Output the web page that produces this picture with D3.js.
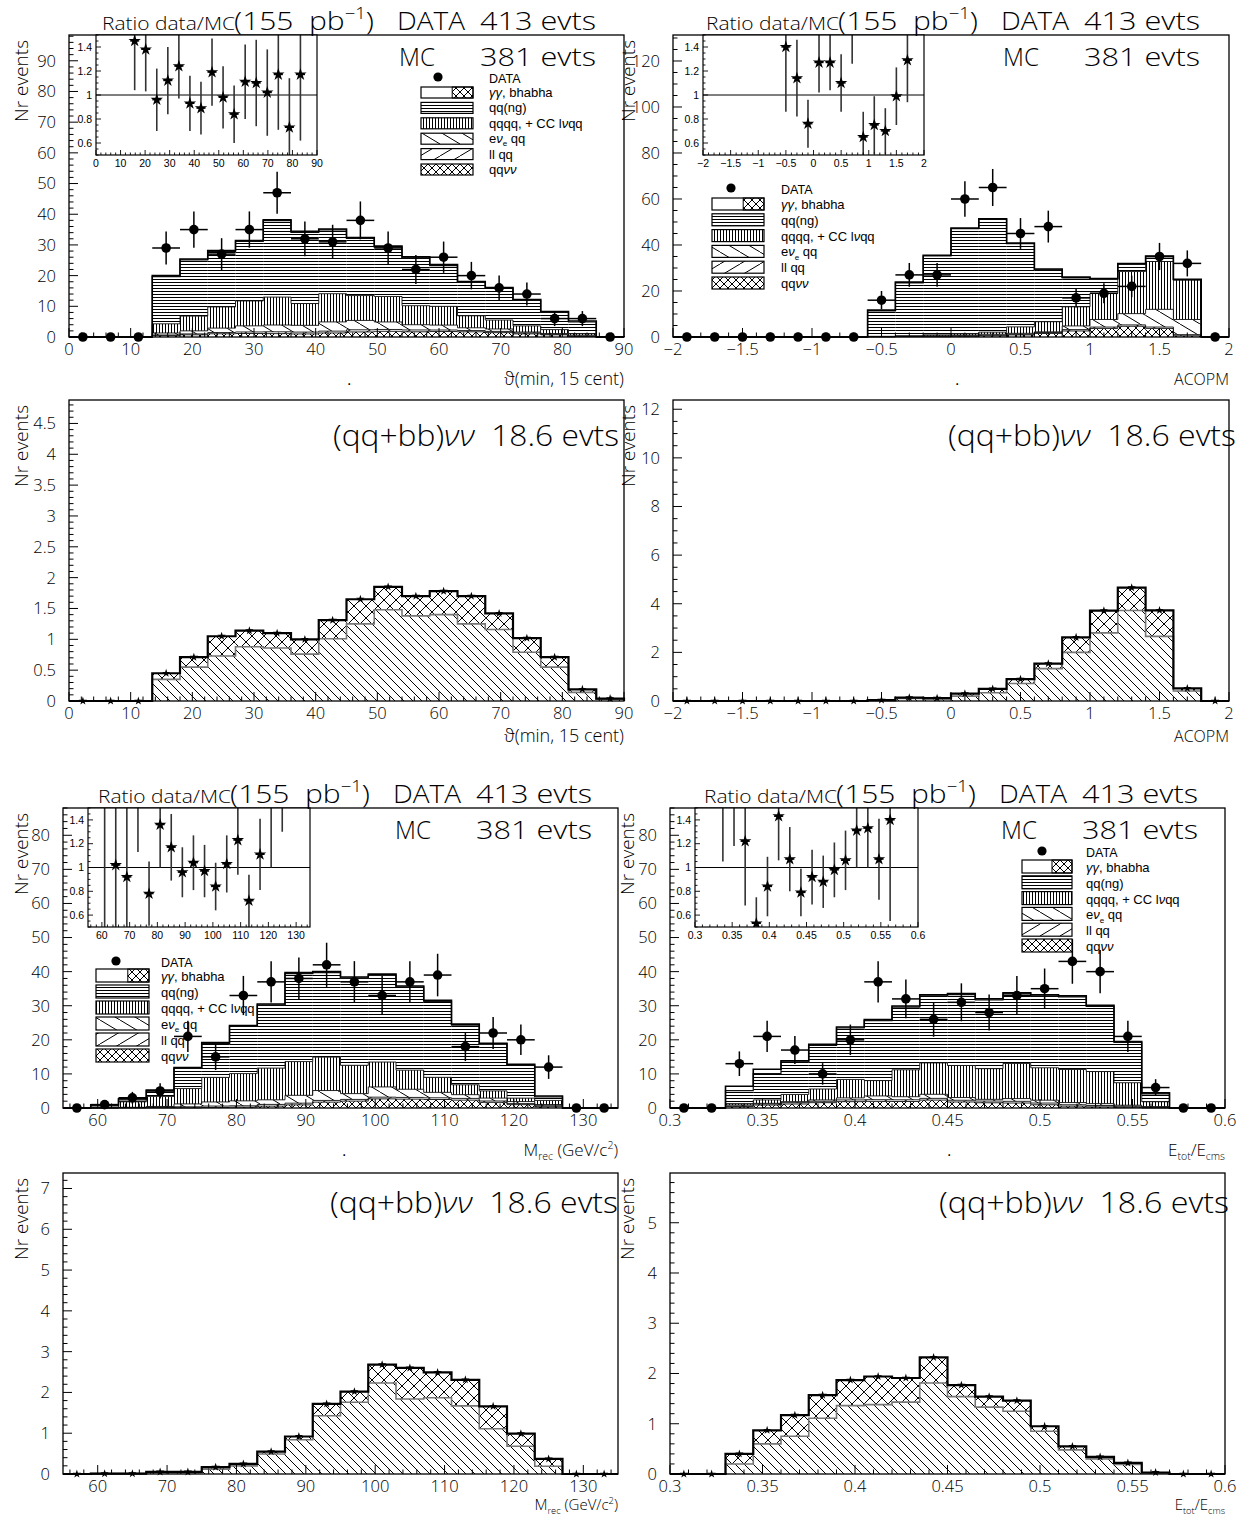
<!DOCTYPE html>
<html><head><meta charset="utf-8">
<script src="https://cdn.jsdelivr.net/npm/d3@7/dist/d3.min.js"></script>
<style>
 html,body{margin:0;padding:0;background:#fff}
 svg text{font-family:'Liberation Sans',Arial,Helvetica,sans-serif;fill:#000}
 svg text.thin{font-family:'Open Sans','Liberation Sans',Arial,sans-serif;font-weight:300}
</style></head><body>
<script>
// ---------------- ϑ(min, 15 cent) : 20 bins over 0–90 ----------------
const thetaRange = [0, 90];
const thetaTicks = [0,10,20,30,40,50,60,70,80,90];
const thetaData  = [0,0,0,29,35,27,35,47,32,31,38,29,22,26,20,16,14,6,6,0];
const thetaSigQQ = [0,0,0,0.35,0.55,0.73,0.88,0.86,0.76,1.01,1.25,1.48,1.38,1.40,1.25,1.16,0.79,0.55,0.14,0.03];
const thetaSigBB = [0,0,0,0.10,0.16,0.32,0.26,0.24,0.24,0.30,0.40,0.37,0.32,0.38,0.45,0.26,0.23,0.16,0.05,0.01];
const thetaLLqq  = [0,0,0,0.2,0.3,0.4,0.5,0.6,0.6,0.6,0.7,0.6,0.6,0.5,0.4,0.4,0.3,0.2,0.1,0];
const thetaENqq  = [0,0,0,0.65,1.0,1.45,2.0,2.2,2.2,3.0,3.05,2.45,1.7,1.6,0.9,0.8,0.3,0.2,0.3,0];
const thetaQQQQ  = [0,0,0,3.0,4.8,6.9,8.1,9.1,7.1,9.2,8.1,8.3,6.2,6.1,3.9,2.9,2.0,1.3,0.5,0];
const thetaQQng  = [0,0,0,15.4,18.3,18.1,19.4,24.9,23.2,20.8,18.6,16.1,15.6,13.3,10.9,10.3,8.3,5.6,3.8,0];
const thetaGG    = [0,0,0,0.3,0.3,0.3,0.3,0.3,0.3,0.3,0.3,0.3,0.3,0.3,0.3,0.3,0.3,0.3,0.3,0];
const thetaRatio    = [null,null,null,1.45,1.38,0.96,1.12,1.24,0.93,0.89,1.19,0.98,0.84,1.11,1.10,1.02,1.17,0.73,1.17,null];
const thetaRatioErr = [null,null,null,0.41,0.35,0.26,0.28,0.27,0.23,0.22,0.28,0.26,0.24,0.31,0.36,0.36,0.46,0.41,0.55,null];

// ---------------- ACOPM : 20 bins over -2–2 ----------------
const acoRange = [-2, 2];
const acoTicks = [-2,-1.5,-1,-0.5,0,0.5,1,1.5,2];
const acoData  = [0,0,0,0,0,0,0,16,27,27,60,65,45,48,17,19,22,35,32,0];
const acoSigQQ = [0,0,0,0,0,0,0,0.02,0.10,0.08,0.20,0.34,0.72,1.33,2.00,2.80,3.72,2.66,0.41,0];
const acoSigBB = [0,0,0,0,0,0,0,0.02,0.04,0.04,0.10,0.16,0.18,0.21,0.62,0.92,0.94,1.07,0.11,0];
const acoLLqq  = [0,0,0,0,0,0,0,0.1,0.1,0.2,0.2,0.3,0.3,0.4,0.6,0.6,0.6,0.6,0.5,0];
const acoENqq  = [0,0,0,0,0,0,0,0.05,0.1,0.2,0.3,0.4,0.4,0.3,1.6,3.3,4.9,7.7,6.6,0];
const acoQQQQ  = [0,0,0,0,0,0,0,0.1,0.2,0.4,0.6,0.9,2.8,4.4,8.3,11.4,18.3,20.8,17.2,0];
const acoQQng  = [0,0,0,0,0,0,0,11.1,23.0,34.3,45.7,49.0,36.2,22.6,12.6,6.1,3.2,2.1,0,0];
const acoGG    = [0,0,0,0,0,0,0,0.3,0.3,0.3,0.3,0.3,0.3,0.3,0.3,0.3,0.3,0.3,0.3,0];
const acoRatio    = [null,null,null,null,null,null,null,1.40,1.14,0.76,1.27,1.27,1.10,1.63,0.65,0.75,0.70,0.99,1.29,null];
const acoRatioErr = [null,null,null,null,null,null,null,0.54,0.32,0.20,0.25,0.23,0.24,0.37,0.21,0.24,0.19,0.24,0.35,null];

// ---------------- M_rec : 20 bins over 55–135 ----------------
const mrecRange = [55, 135];
const mrecTicks = [60,70,80,90,100,110,120,130];
const mrecData  = [0,1,3,5,21,15,33,37,38,42,37,33,37,39,18,22,20,12,0,0];
const mrecSigQQ = [0,0.01,0.01,0.03,0.03,0.12,0.20,0.49,0.84,1.43,1.76,2.23,1.84,1.87,1.67,1.11,0.68,0.19,0,0];
const mrecSigBB = [0,0,0,0.02,0.02,0.05,0.05,0.06,0.08,0.29,0.26,0.45,0.76,0.62,0.64,0.55,0.31,0.18,0,0];
const mrecLLqq  = [0,0,0.1,0.2,0.3,0.4,0.4,0.5,0.5,0.5,0.5,0.5,0.5,0.5,0.5,0.4,0.3,0.3,0,0];
const mrecENqq  = [0,0,0.1,0.2,0.85,1.2,1.45,1.35,2.3,2.9,1.7,3.0,2.4,1.6,1.1,0.85,0.6,0.35,0,0];
const mrecQQQQ  = [0,0.3,1.6,2.95,4.5,7.2,8.0,9.3,9.9,9.8,8.3,7.3,5.6,4.4,2.9,2.1,1.0,1.2,0,0];
const mrecQQng  = [0,0.5,0.6,1.6,5.9,9.9,13.8,18.5,25.8,24.8,25.6,25.5,24.4,22.3,17.5,13.7,9.6,1.0,0,0];
const mrecGG    = [0,0.1,0.3,0.3,0.3,0.3,0.3,0.3,0.3,0.3,0.3,0.3,0.3,0.3,0.3,0.3,0.3,0.3,0,0];
const mrecRatio    = [null,2.5,1.02,0.92,1.76,0.78,1.36,1.17,0.96,1.04,0.97,0.84,1.03,1.23,0.72,1.11,1.56,3.4,null,null];
const mrecRatioErr = [null,2.5,0.6,0.6,0.63,0.27,0.36,0.28,0.21,0.23,0.22,0.20,0.24,0.29,0.22,0.30,0.56,2.1,null,null];

// ---------------- E_tot/E_cms : 20 bins over 0.3–0.6 ----------------
const etotRange = [0.3, 0.6];
const etotTicks = [0.3,0.35,0.4,0.45,0.5,0.55,0.6];
const etotData  = [0,0,13,21,17,10,20,37,32,26,31,28,33,35,43,40,21,6,0,0];
const etotSigQQ = [0,0,0.20,0.60,0.75,1.11,1.36,1.38,1.43,1.81,1.54,1.33,1.25,0.85,0.48,0.30,0.19,0.02,0,0];
const etotSigBB = [0,0,0.20,0.27,0.42,0.46,0.51,0.56,0.48,0.51,0.23,0.21,0.21,0.10,0.07,0.04,0.03,0.01,0,0];
const etotLLqq  = [0,0,0.2,0.3,0.4,0.4,0.5,0.5,0.5,0.5,0.5,0.5,0.5,0.5,0.4,0.4,0.3,0.1,0,0];
const etotENqq  = [0,0,0.3,0.2,0.3,0.4,0.6,1.1,0.9,1.2,0.8,0.5,0.8,0.85,0.65,0.55,0.3,0.3,0,0];
const etotQQQQ  = [0,0,0.4,1.0,2.1,3.2,5.4,4.5,7.9,9.2,9.4,9.0,10.3,9.5,9.7,9.4,6.6,1.4,0,0];
const etotQQng  = [0,0,3.8,7.7,9.6,12.8,15.1,17.6,18.4,19.7,20.8,20.2,20.4,21.1,21.3,19.1,11.8,2.3,0,0];
const etotGG    = [0,0,1.3,1.3,0.3,0.3,0.3,0.3,0.3,0.3,0.3,0.3,0.3,0.3,0.3,0.3,0.3,0.3,0,0];
const etotRatio    = [null,null,2.03,1.84,1.22,0.53,0.84,1.43,1.07,0.79,0.92,0.88,0.98,1.06,1.31,1.33,1.07,1.40,null,null];
const etotRatioErr = [null,null,0.98,0.66,0.54,0.22,0.25,0.37,0.27,0.20,0.23,0.22,0.23,0.25,0.31,0.33,0.34,0.85,null,null];

// shared labels
const ratioTicks = [0.6,0.8,1,1.2,1.4];
const legendKeys = ['gg','qqng','qqqq','enqq','llqq','qqvv'];
const legendLabels = [
  [{t:'γγ',it:true},{t:', bhabha'}],
  [{t:'qq(ng)'}],
  [{t:'qqqq, + CC l'},{t:'ν',it:true},{t:'qq'}],
  [{t:'e'},{t:'ν',it:true},{t:'e',sub:true},{t:' qq'}],
  [{t:'ll qq'}],
  [{t:'qq'},{t:'νν',it:true}]
];
const thetaTitle = [{t:'ϑ'},{t:'(min, 15 cent)'}];
const acoTitle   = [{t:'ACOPM'}];
const mrecTitle  = [{t:'M'},{t:'rec',sub:true},{t:' (GeV/c'},{t:'2',sup:true},{t:')'}];
const etotTitle  = [{t:'E'},{t:'tot',sub:true},{t:'/E'},{t:'cms',sub:true}];

// ------------------------------------------------------------------
const W = 1242, H = 1521;
const NB = '\u00a0';
const svg = d3.select('body').append('svg').attr('width',W).attr('height',H);
svg.append('rect').attr('width',W).attr('height',H).attr('fill','#fff');
const defs = svg.append('defs');

function hatch(id, w, h, segs, sw) {
  const p = defs.append('pattern').attr('id',id).attr('patternUnits','userSpaceOnUse')
    .attr('width',w).attr('height',h);
  p.append('rect').attr('width',w).attr('height',h).attr('fill','#fff');
  segs.forEach(s => p.append('line').attr('x1',s[0]).attr('y1',s[1]).attr('x2',s[2]).attr('y2',s[3])
    .attr('stroke','#000').attr('stroke-width',sw||1).attr('stroke-linecap','square'));
}
hatch('hl', 6, 3, [[0,0.5,6,0.5]]);
hatch('vl', 3, 6, [[0.5,0,0.5,6]]);
hatch('bsl', 20, 12, [[0,0,20,12]]);
hatch('fsl', 20, 12, [[0,12,20,0]]);
hatch('xs', 8, 8, [[0,0,8,8],[0,8,8,0]]);
hatch('bsl2', 9, 9, [[0,0,9,9]]);
hatch('xl', 12, 12, [[0,0,12,12],[0,12,12,0]]);
const fills = {qqvv:'url(#xs)', llqq:'url(#fsl)', enqq:'url(#bsl)', qqqq:'url(#vl)', qqng:'url(#hl)', gg:'#fff'};

function rich(g, x, y, parts, size, anchor, cls) {
  const t = g.append('text').attr('x',x).attr('y',y).attr('font-size',size)
    .attr('text-anchor',anchor||'start');
  if (cls) t.attr('class',cls);
  let prev = 0;
  parts.forEach(p => {
    const off = p.sub ? 0.25 : (p.sup ? -0.42 : 0);
    const s = t.append('tspan').text(p.t).attr('dy',((off-prev)*size).toFixed(2));
    if (p.sub || p.sup) s.attr('font-size',(size*0.62).toFixed(1));
    if (p.it) s.attr('font-style','italic');
    prev = off;
  });
  return t;
}
function tickVals(d0, d1, step) {
  const a = [], k0 = Math.ceil(d0/step-1e-6), k1 = Math.floor(d1/step+1e-6);
  for (let k=k0;k<=k1;k++) a.push(k*step);
  return a;
}
const isMajor = (v, majors) => majors.some(m => Math.abs(m-v) < 1e-6);
const fmt = v => (v < -1e-9 ? '\u2212' : '') + d3.format('~g')(Math.abs(+v.toFixed(6)));

function drawAxes(g, x, y, b, xT, xMinor, yT, yMinor, o) {
  const xd = x.domain(), yd = y.domain();
  tickVals(xd[0], xd[1], xMinor).forEach(v => {
    const L = isMajor(v,xT) ? o.maj : o.min;
    g.append('line').attr('x1',x(v)).attr('x2',x(v)).attr('y1',b.y1).attr('y2',b.y1-L)
      .attr('stroke','#000').attr('stroke-width',o.sw);
  });
  xT.forEach(v => g.append('text').attr('class',o.cls||null).attr('x',x(v)).attr('y',b.y1+o.xLab)
    .attr('text-anchor','middle').attr('font-size',o.fs).text(fmt(v)));
  tickVals(yd[0], yd[1], yMinor).forEach(v => {
    const L = isMajor(v,yT) ? o.maj : o.min;
    g.append('line').attr('y1',y(v)).attr('y2',y(v)).attr('x1',b.x0).attr('x2',b.x0+L)
      .attr('stroke','#000').attr('stroke-width',o.sw);
  });
  yT.forEach(v => g.append('text').attr('class',o.cls||null).attr('x',b.x0-o.yLab).attr('y',y(v))
    .attr('dy','0.36em').attr('text-anchor','end').attr('font-size',o.fs).text(fmt(v)));
}
function stepPath(x, y, edges, vals) {
  let d = `M${x(edges[0])},${y(0)}`;
  vals.forEach((v,i) => { d += `L${x(edges[i])},${y(v)}L${x(edges[i+1])},${y(v)}`; });
  return d + `L${x(edges[edges.length-1])},${y(0)}`;
}
function yTitle(xb, ytop) {
  svg.append('text').attr('class','thin').attr('transform',`translate(${xb},${ytop}) rotate(-90)`)
    .attr('text-anchor','end').attr('font-size',19).text('Nr events');
}
const mainAxis = {maj:9, min:4.5, sw:1, fs:16.5, xLab:18, yLab:13, cls:'thin'};

// stacked MC + data panel with ratio inset and legend
function drawMain(p) {
  const g = svg.append('g');
  const x = d3.scaleLinear().domain(p.range).range([p.x0,p.x1]);
  const y = d3.scaleLinear().domain([0,p.yMax]).range([p.y1,p.y0]);
  const n = p.data.length, bw = (p.range[1]-p.range[0])/n;
  const edges = d3.range(n+1).map(i => p.range[0]+i*bw);
  const rows = d3.range(n).map(i => ({
    qqvv: p.sigQQ[i]+p.sigBB[i], llqq: p.llqq[i], enqq: p.enqq[i],
    qqqq: p.qqqq[i], qqng: p.qqng[i], gg: p.gg[i]}));
  const keys = ['qqvv','llqq','enqq','qqqq','qqng','gg'];
  const series = d3.stack().keys(keys)(rows);
  series.forEach(s => {
    g.append('g').selectAll('rect').data(s).join('rect')
      .attr('x',(d,i) => x(edges[i])).attr('width',(d,i) => x(edges[i+1])-x(edges[i]))
      .attr('y',d => y(d[1])).attr('height',d => Math.max(0,y(d[0])-y(d[1])))
      .attr('fill',fills[s.key]);
  });
  series.forEach((s,k) => {
    g.append('path').attr('d',stepPath(x,y,edges,s.map(d => d[1]))).attr('fill','none')
      .attr('stroke',k===keys.length-1 ? '#000' : '#111')
      .attr('stroke-width',k===keys.length-1 ? 1.6 : (k===keys.length-2 ? 1.2 : 0.9));
  });
  // data points with Poisson errors
  const dg = g.append('g');
  p.data.forEach((v,i) => {
    const cx = x((edges[i]+edges[i+1])/2), cy = y(v);
    if (v > 0) {
      const e = Math.sqrt(v);
      dg.append('line').attr('x1',x(edges[i])).attr('x2',x(edges[i+1])).attr('y1',cy).attr('y2',cy)
        .attr('stroke','#000').attr('stroke-width',1.5);
      dg.append('line').attr('x1',cx).attr('x2',cx).attr('y1',y(v-e)).attr('y2',y(v+e))
        .attr('stroke','#000').attr('stroke-width',1.5);
    }
    dg.append('circle').attr('cx',cx).attr('cy',cy).attr('r',4.8).attr('fill','#000');
  });
  g.append('rect').attr('x',p.x0).attr('y',p.y0).attr('width',p.x1-p.x0).attr('height',p.y1-p.y0)
    .attr('fill','none').attr('stroke','#000').attr('stroke-width',1.3);
  drawAxes(g, x, y, p, p.xTicks, p.xMinor, p.yTicks, p.yMinor, mainAxis);

  // ratio inset
  const b = p.inset;
  const ix = d3.scaleLinear().domain(p.range).range([b.x0,b.x1]);
  const iy = d3.scaleLinear().domain([0.5,1.5]).range([b.y1,b.y0]);
  const ig = svg.append('g');
  ig.append('rect').attr('x',b.x0).attr('y',b.y0).attr('width',b.x1-b.x0).attr('height',b.y1-b.y0)
    .attr('fill','#fff');
  const cid = 'clip' + p.id;
  defs.append('clipPath').attr('id',cid).append('rect')
    .attr('x',b.x0).attr('y',b.y0).attr('width',b.x1-b.x0).attr('height',b.y1-b.y0);
  const cg = ig.append('g').attr('clip-path',`url(#${cid})`);
  cg.append('line').attr('x1',b.x0).attr('x2',b.x1).attr('y1',iy(1)).attr('y2',iy(1))
    .attr('stroke','#000').attr('stroke-width',1.1);
  p.ratio.forEach((r,i) => {
    if (r === null) return;
    const e = p.ratioErr[i], cx = ix((edges[i]+edges[i+1])/2);
    cg.append('line').attr('x1',cx).attr('x2',cx).attr('y1',iy(r-e)).attr('y2',iy(r+e))
      .attr('stroke','#333').attr('stroke-width',1.6);
    cg.append('line').attr('x1',ix(edges[i])+1).attr('x2',ix(edges[i+1])-1).attr('y1',iy(r)).attr('y2',iy(r))
      .attr('stroke','#000').attr('stroke-width',1.2);
    cg.append('path').attr('d',d3.symbol(d3.symbolStar,48)()).attr('transform',`translate(${cx},${iy(r)})`)
      .attr('fill','#000');
  });
  ig.append('rect').attr('x',b.x0).attr('y',b.y0).attr('width',b.x1-b.x0).attr('height',b.y1-b.y0)
    .attr('fill','none').attr('stroke','#000').attr('stroke-width',1.2);
  drawAxes(ig, ix, iy, b, p.xTicks, p.inMinor, ratioTicks, 0.05,
    {maj:5, min:2.5, sw:0.9, fs:10.5, xLab:12, yLab:4});

  // legend
  const L = p.legend, lg = svg.append('g');
  lg.append('circle').attr('cx',L.dotX).attr('cy',L.dotY).attr('r',4.6);
  rich(lg, L.tx, L.dotY+6, [{t:'DATA'}], 12.5);
  legendKeys.forEach((k,j) => {
    const yy = L.top + j*L.step;
    if (k === 'gg') {
      lg.append('rect').attr('x',L.bx).attr('y',yy).attr('width',L.bw).attr('height',L.bh).attr('fill','#fff');
      lg.append('rect').attr('x',L.bx+L.bw*0.6).attr('y',yy).attr('width',L.bw*0.4).attr('height',L.bh)
        .attr('fill','url(#xs)').attr('stroke','#000').attr('stroke-width',1);
    } else {
      lg.append('rect').attr('x',L.bx).attr('y',yy).attr('width',L.bw).attr('height',L.bh).attr('fill',fills[k]);
    }
    lg.append('rect').attr('x',L.bx).attr('y',yy).attr('width',L.bw).attr('height',L.bh)
      .attr('fill','none').attr('stroke','#000').attr('stroke-width',1.2);
    rich(lg, L.tx, yy+L.bh-1, legendLabels[j], 13);
  });

  // header texts
  const t = p.title, tg = svg.append('g');
  rich(tg, t.x, p.y0-5, [{t:'Ratio data/MC'}], 18, 'start', 'thin')
    .attr('textLength',133).attr('lengthAdjust','spacingAndGlyphs');
  rich(tg, t.x+132, p.y0-5, [{t:'(155'+NB+NB+'pb'},{t:'\u22121',sup:true},{t:')'}], 26, 'start', 'thin')
    .attr('textLength',140).attr('lengthAdjust','spacingAndGlyphs');
  rich(tg, t.x+295, p.y0-5, [{t:'DATA'}], 25, 'start', 'thin')
    .attr('textLength',68).attr('lengthAdjust','spacingAndGlyphs');
  rich(tg, t.x+378, p.y0-5, [{t:'413 evts'}], 25, 'start', 'thin')
    .attr('textLength',116).attr('lengthAdjust','spacingAndGlyphs');
  rich(tg, t.x+297, p.y0+31, [{t:'MC'}], 25, 'start', 'thin')
    .attr('textLength',36).attr('lengthAdjust','spacingAndGlyphs');
  rich(tg, t.x+378, p.y0+31, [{t:'381 evts'}], 25, 'start', 'thin')
    .attr('textLength',116).attr('lengthAdjust','spacingAndGlyphs');
  rich(tg, p.x1, p.y1+48, p.xTitle, p.xtSize, 'end', 'thin');
  rich(tg, p.dotX, p.y1+48, [{t:'.'}], 16);
  yTitle(p.yTitleX, p.y0+5);
}

// (qq+bb)νν signal-only panel
function drawSig(p) {
  const g = svg.append('g');
  const x = d3.scaleLinear().domain(p.range).range([p.x0,p.x1]);
  const y = d3.scaleLinear().domain([0,p.yMax]).range([p.y1,p.y0]);
  const n = p.sigQQ.length, bw = (p.range[1]-p.range[0])/n;
  const edges = d3.range(n+1).map(i => p.range[0]+i*bw);
  const rows = d3.range(n).map(i => ({qq:p.sigQQ[i], bb:p.sigBB[i]}));
  const series = d3.stack().keys(['qq','bb'])(rows);
  const sf = {qq:'url(#bsl2)', bb:'url(#xl)'};
  series.forEach(s => {
    g.append('g').selectAll('rect').data(s).join('rect')
      .attr('x',(d,i) => x(edges[i])).attr('width',(d,i) => x(edges[i+1])-x(edges[i]))
      .attr('y',d => y(d[1])).attr('height',d => Math.max(0,y(d[0])-y(d[1])))
      .attr('fill',sf[s.key]);
  });
  g.append('path').attr('d',stepPath(x,y,edges,series[0].map(d => d[1]))).attr('fill','none')
    .attr('stroke','#777').attr('stroke-width',1.6);
  g.append('path').attr('d',stepPath(x,y,edges,series[1].map(d => d[1]))).attr('fill','none')
    .attr('stroke','#000').attr('stroke-width',2.2);
  series[1].forEach((d,i) => {
    g.append('path').attr('d',d3.symbol(d3.symbolStar,22)())
      .attr('transform',`translate(${x((edges[i]+edges[i+1])/2)},${y(d[1])})`).attr('fill','#000');
  });
  g.append('rect').attr('x',p.x0).attr('y',p.y0).attr('width',p.x1-p.x0).attr('height',p.y1-p.y0)
    .attr('fill','none').attr('stroke','#000').attr('stroke-width',1.3);
  drawAxes(g, x, y, p, p.xTicks, p.xMinor, p.yTicks, p.yMinor, mainAxis);
  const tg = svg.append('g');
  rich(tg, p.sx, p.sy, [{t:'(qq+bb)'},{t:'νν',it:true},{t:NB+NB+'18.6 evts'}], 29, 'start', 'thin')
    .attr('textLength',p.sw).attr('lengthAdjust','spacingAndGlyphs');
  rich(tg, p.x1, p.y1+p.xtY, p.xTitle, p.xtSize, 'end', 'thin');
  yTitle(p.yTitleX, p.y0+5);
}

// ---------------- panels ----------------
drawMain({id:'A', x0:69, x1:624, y0:35, y1:337, range:thetaRange, yMax:98.4,
  yTicks:d3.range(0,91,10), yMinor:2, xTicks:thetaTicks, xMinor:2, inMinor:2,
  data:thetaData, sigQQ:thetaSigQQ, sigBB:thetaSigBB, llqq:thetaLLqq, enqq:thetaENqq,
  qqqq:thetaQQQQ, qqng:thetaQQng, gg:thetaGG, ratio:thetaRatio, ratioErr:thetaRatioErr,
  inset:{x0:96, x1:317, y0:35, y1:155},
  legend:{dotX:438, dotY:77, bx:421, bw:52, bh:11, top:87, step:15.4, tx:489},
  title:{x:102}, xTitle:thetaTitle, xtSize:18, dotX:347, yTitleX:28});
drawMain({id:'B', x0:673, x1:1229, y0:35, y1:337, range:acoRange, yMax:131.3,
  yTicks:d3.range(0,121,20), yMinor:5, xTicks:acoTicks, xMinor:0.1, inMinor:0.1,
  data:acoData, sigQQ:acoSigQQ, sigBB:acoSigBB, llqq:acoLLqq, enqq:acoENqq,
  qqqq:acoQQQQ, qqng:acoQQng, gg:acoGG, ratio:acoRatio, ratioErr:acoRatioErr,
  inset:{x0:703, x1:924, y0:35, y1:155},
  legend:{dotX:731, dotY:188, bx:712, bw:52, bh:12, top:198, step:15.8, tx:781},
  title:{x:706}, xTitle:acoTitle, xtSize:16, dotX:955, yTitleX:635});
drawMain({id:'E', x0:63, x1:618, y0:808, y1:1108, range:mrecRange, yMax:88,
  yTicks:d3.range(0,81,10), yMinor:2, xTicks:mrecTicks, xMinor:2, inMinor:2,
  data:mrecData, sigQQ:mrecSigQQ, sigBB:mrecSigBB, llqq:mrecLLqq, enqq:mrecENqq,
  qqqq:mrecQQQQ, qqng:mrecQQng, gg:mrecGG, ratio:mrecRatio, ratioErr:mrecRatioErr,
  inset:{x0:88, x1:310, y0:808, y1:927},
  legend:{dotX:116, dotY:961, bx:96, bw:53, bh:13, top:969, step:16, tx:161},
  title:{x:98}, xTitle:mrecTitle, xtSize:17, dotX:342, yTitleX:28});
drawMain({id:'F', x0:670, x1:1225, y0:808, y1:1108, range:etotRange, yMax:88,
  yTicks:d3.range(0,81,10), yMinor:2, xTicks:etotTicks, xMinor:0.01, inMinor:0.01,
  data:etotData, sigQQ:etotSigQQ, sigBB:etotSigBB, llqq:etotLLqq, enqq:etotENqq,
  qqqq:etotQQQQ, qqng:etotQQng, gg:etotGG, ratio:etotRatio, ratioErr:etotRatioErr,
  inset:{x0:695, x1:918, y0:808, y1:927},
  legend:{dotX:1042, dotY:851, bx:1022, bw:50, bh:13, top:860, step:15.8, tx:1086},
  title:{x:704}, xTitle:etotTitle, xtSize:17, dotX:947, yTitleX:634});

drawSig({x0:69, x1:624, y0:400, y1:701, range:thetaRange, yMax:4.88,
  yTicks:d3.range(0,4.51,0.5), yMinor:0.1, xTicks:thetaTicks, xMinor:2,
  sigQQ:thetaSigQQ, sigBB:thetaSigBB, sx:333, sy:446, sw:286, xTitle:thetaTitle, xtSize:18, xtY:41, yTitleX:28});
drawSig({x0:673, x1:1229, y0:400, y1:701, range:acoRange, yMax:12.38,
  yTicks:d3.range(0,12.1,2), yMinor:0.5, xTicks:acoTicks, xMinor:0.1,
  sigQQ:acoSigQQ, sigBB:acoSigBB, sx:948, sy:446, sw:288, xTitle:acoTitle, xtSize:16, xtY:41, yTitleX:635});
drawSig({x0:63, x1:618, y0:1173, y1:1474, range:mrecRange, yMax:7.38,
  yTicks:d3.range(0,7.1,1), yMinor:0.2, xTicks:mrecTicks, xMinor:2,
  sigQQ:mrecSigQQ, sigBB:mrecSigBB, sx:330, sy:1213, sw:288, xTitle:mrecTitle, xtSize:15, xtY:36, yTitleX:28});
drawSig({x0:670, x1:1225, y0:1173, y1:1474, range:etotRange, yMax:5.99,
  yTicks:d3.range(0,5.1,1), yMinor:0.2, xTicks:etotTicks, xMinor:0.01,
  sigQQ:etotSigQQ, sigBB:etotSigBB, sx:939, sy:1213, sw:290, xTitle:etotTitle, xtSize:15, xtY:36, yTitleX:634});
</script>
</body></html>
